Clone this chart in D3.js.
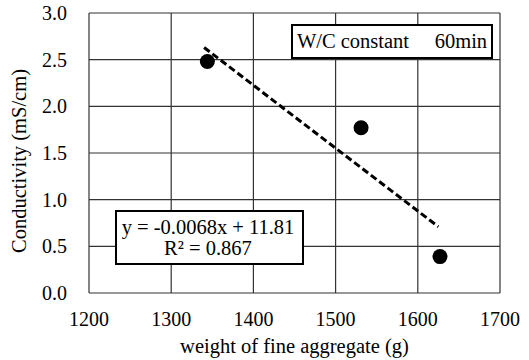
<!DOCTYPE html>
<html>
<head>
<meta charset="utf-8">
<script src="https://cdn.jsdelivr.net/npm/d3@7.9.0/dist/d3.min.js"></script>
<style>
  body { margin: 0; background: #fff; }
  text { font-family: 'Liberation Serif', 'Times New Roman', Times, 'DejaVu Serif', serif; }
</style>
</head>
<body>
<div id="chart"></div>
<script>
// measured points
const weights = [1344, 1531, 1627];
const conductivity = [2.48, 1.77, 0.39];
// trend line ends
const trendX = [1340, 1625];
const trendY = [2.63, 0.71];
const xTicks = [1200, 1300, 1400, 1500, 1600, 1700];
const yTicks = [0, 0.5, 1.0, 1.5, 2.0, 2.5, 3.0];
const legendText = 'W/C constant\u00a0\u00a0\u00a0\u00a0 60min';
const eqLines = ['y = -0.0068x + 11.81', 'R\u00b2 = 0.867'];

const width = 529;
const height = 360;
const margin = { top: 13, right: 29, bottom: 67, left: 89 };
const serif = "'Liberation Serif', 'Times New Roman', serif";

const svg = d3.select('#chart')
  .append('svg')
  .attr('width', width)
  .attr('height', height)
  .attr('font-family', serif);

const x = d3.scaleLinear()
  .domain([1200, 1700])
  .range([margin.left, width - margin.right]);

const y = d3.scaleLinear()
  .domain([0, 3])
  .range([height - margin.bottom, margin.top]);

// grid
svg.append('g')
  .selectAll('line')
  .data(xTicks)
  .join('line')
  .attr('x1', (d) => x(d)).attr('x2', (d) => x(d))
  .attr('y1', y(0)).attr('y2', y(3))
  .attr('stroke', '#333').attr('stroke-width', 1.2);

svg.append('g')
  .selectAll('line')
  .data(yTicks)
  .join('line')
  .attr('y1', (d) => y(d)).attr('y2', (d) => y(d))
  .attr('x1', x(1200)).attr('x2', x(1700))
  .attr('stroke', '#333').attr('stroke-width', 1.2);

// tick labels
svg.append('g')
  .selectAll('text')
  .data(yTicks)
  .join('text')
  .attr('x', x(1200) - 22)
  .attr('y', (d) => y(d) + 7)
  .attr('text-anchor', 'end')
  .attr('font-size', 20)
  .text((d) => d.toFixed(1));

svg.append('g')
  .selectAll('text')
  .data(xTicks)
  .join('text')
  .attr('x', (d) => x(d))
  .attr('y', y(0) + 33)
  .attr('text-anchor', 'middle')
  .attr('font-size', 20)
  .text((d) => d);

// axis titles
svg.append('text')
  .attr('x', (x(1200) + x(1700)) / 2)
  .attr('y', 353)
  .attr('text-anchor', 'middle')
  .attr('font-size', 20.5)
  .text('weight of fine aggregate (g)');

svg.append('text')
  .attr('transform', `translate(26, ${(y(0) + y(3)) / 2 + 8}) rotate(-90)`)
  .attr('text-anchor', 'middle')
  .attr('font-size', 20.5)
  .text('Conductivity (mS/cm)');

// trend line
svg.append('line')
  .attr('x1', x(trendX[0])).attr('y1', y(trendY[0]))
  .attr('x2', x(trendX[1])).attr('y2', y(trendY[1]))
  .attr('stroke', '#000')
  .attr('stroke-width', 3)
  .attr('stroke-dasharray', '7,3.5');

// points
svg.append('g')
  .selectAll('circle')
  .data(weights.map((w, i) => ({ w, c: conductivity[i] })))
  .join('circle')
  .attr('cx', (d) => x(d.w))
  .attr('cy', (d) => y(d.c))
  .attr('r', 7.5)
  .attr('fill', '#000');

// legend box
const lg = svg.append('g');
lg.append('rect')
  .attr('x', 292).attr('y', 25)
  .attr('width', 200).attr('height', 33)
  .attr('fill', '#fff').attr('stroke', '#000').attr('stroke-width', 2);
lg.append('text')
  .attr('x', 392).attr('y', 48)
  .attr('text-anchor', 'middle')
  .attr('font-size', 20.5)
  .text(legendText);

// equation box
const eq = svg.append('g');
eq.append('rect')
  .attr('x', 116).attr('y', 211)
  .attr('width', 187).attr('height', 53)
  .attr('fill', '#fff').attr('stroke', '#000').attr('stroke-width', 2);
eq.selectAll('text')
  .data(eqLines)
  .join('text')
  .attr('x', 208)
  .attr('y', (d, i) => 234 + i * 21)
  .attr('text-anchor', 'middle')
  .attr('font-size', 20.5)
  .text((d) => d);
</script>
</body>
</html>
